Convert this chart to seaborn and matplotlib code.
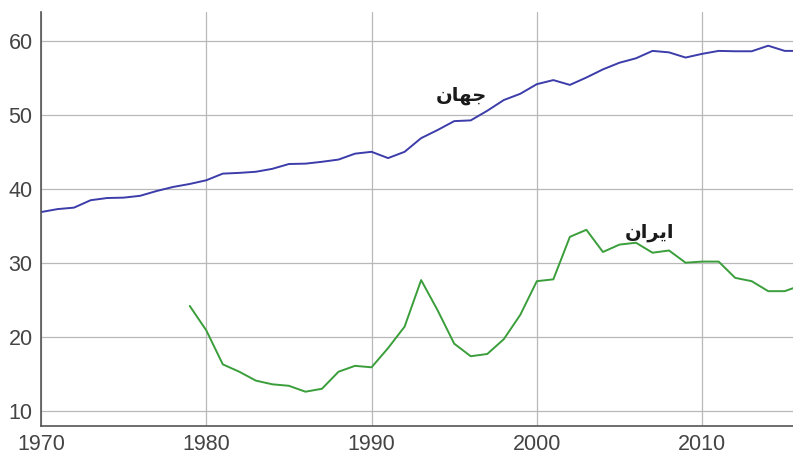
import matplotlib
matplotlib.use("Agg")
import matplotlib.pyplot as plt
import seaborn as sns
import pandas as pd

years = list(range(1970, 2017))
world = [36.9, 37.3, 37.5, 38.5, 38.8, 38.85, 39.1, 39.75, 40.3, 40.7,
         41.2, 42.1, 42.2, 42.35, 42.75, 43.4, 43.45, 43.7, 44.0, 44.8,
         45.05, 44.2, 45.05, 46.9, 48.0, 49.2, 49.3, 50.6, 52.05, 52.9,
         54.2, 54.75, 54.1, 55.1, 56.2, 57.1, 57.7, 58.7, 58.5, 57.8,
         58.3, 58.7, 58.65, 58.65, 59.4, 58.7, 58.7]
iran_years = list(range(1979, 2017))
iran = [24.2, 20.9, 16.3, 15.3, 14.1, 13.6, 13.4, 12.6, 13.0, 15.3,
        16.1, 15.9, 18.5, 21.4, 27.7, 23.6, 19.1, 17.4, 17.7, 19.7,
        23.0, 27.55, 27.8, 33.55, 34.5, 31.5, 32.5, 32.75, 31.4, 31.7,
        30.05, 30.2, 30.2, 28.0, 27.55, 26.2, 26.2, 27.0]
xticks = [1970, 1980, 1990, 2000, 2010]
yticks = [10, 20, 30, 40, 50, 60]
label_world = "\uFEE5\uFE8E\uFEEC\uFE9F"          # جهان (shaped, visual order)
label_iran = "\uFEE5\uFE8D\uFEAE\uFBFE\uFE8D"      # ایران (shaped, visual order)

sns.set_style("white")
plt.rcParams['font.family'] = ['Liberation Sans', 'DejaVu Sans']

fig = plt.figure(figsize=(7.93, 4.54), dpi=100)
ax = fig.add_axes([0.0517, 0.0623, 0.9483, 0.9119])

df_w = pd.DataFrame({"year": years, "value": world})
df_i = pd.DataFrame({"year": iran_years, "value": iran})
sns.lineplot(data=df_w, x="year", y="value", ax=ax, color="#3c3caa", linewidth=1.4)
sns.lineplot(data=df_i, x="year", y="value", ax=ax, color="#3a9e3a", linewidth=1.4)

ax.set_xlim(1970, 2015.5)
ax.set_ylim(8, 64)
ax.set_xticks(xticks)
ax.set_yticks(yticks)
ax.grid(True, color="#b8b8b8", linewidth=0.9)
ax.set_axisbelow(True)
ax.set_xlabel("")
ax.set_ylabel("")
for s in ["top", "right"]:
    ax.spines[s].set_visible(False)
for s in ["left", "bottom"]:
    ax.spines[s].set_color("#555555")
    ax.spines[s].set_linewidth(1.2)
ax.tick_params(axis="both", length=0, labelsize=15.5, labelcolor="#444444")
ax.tick_params(axis="x", pad=6)
ax.tick_params(axis="y", pad=6)

ax.text(1995.45, 52.6, label_world, ha="center", va="center", fontsize=14,
        fontweight="bold", color="#1a1a1a", family=['DejaVu Sans'])
ax.text(2006.8, 34.1, label_iran, ha="center", va="center", fontsize=14,
        fontweight="bold", color="#1a1a1a", family=['DejaVu Sans'])

fig.savefig("out.png", dpi=100)
